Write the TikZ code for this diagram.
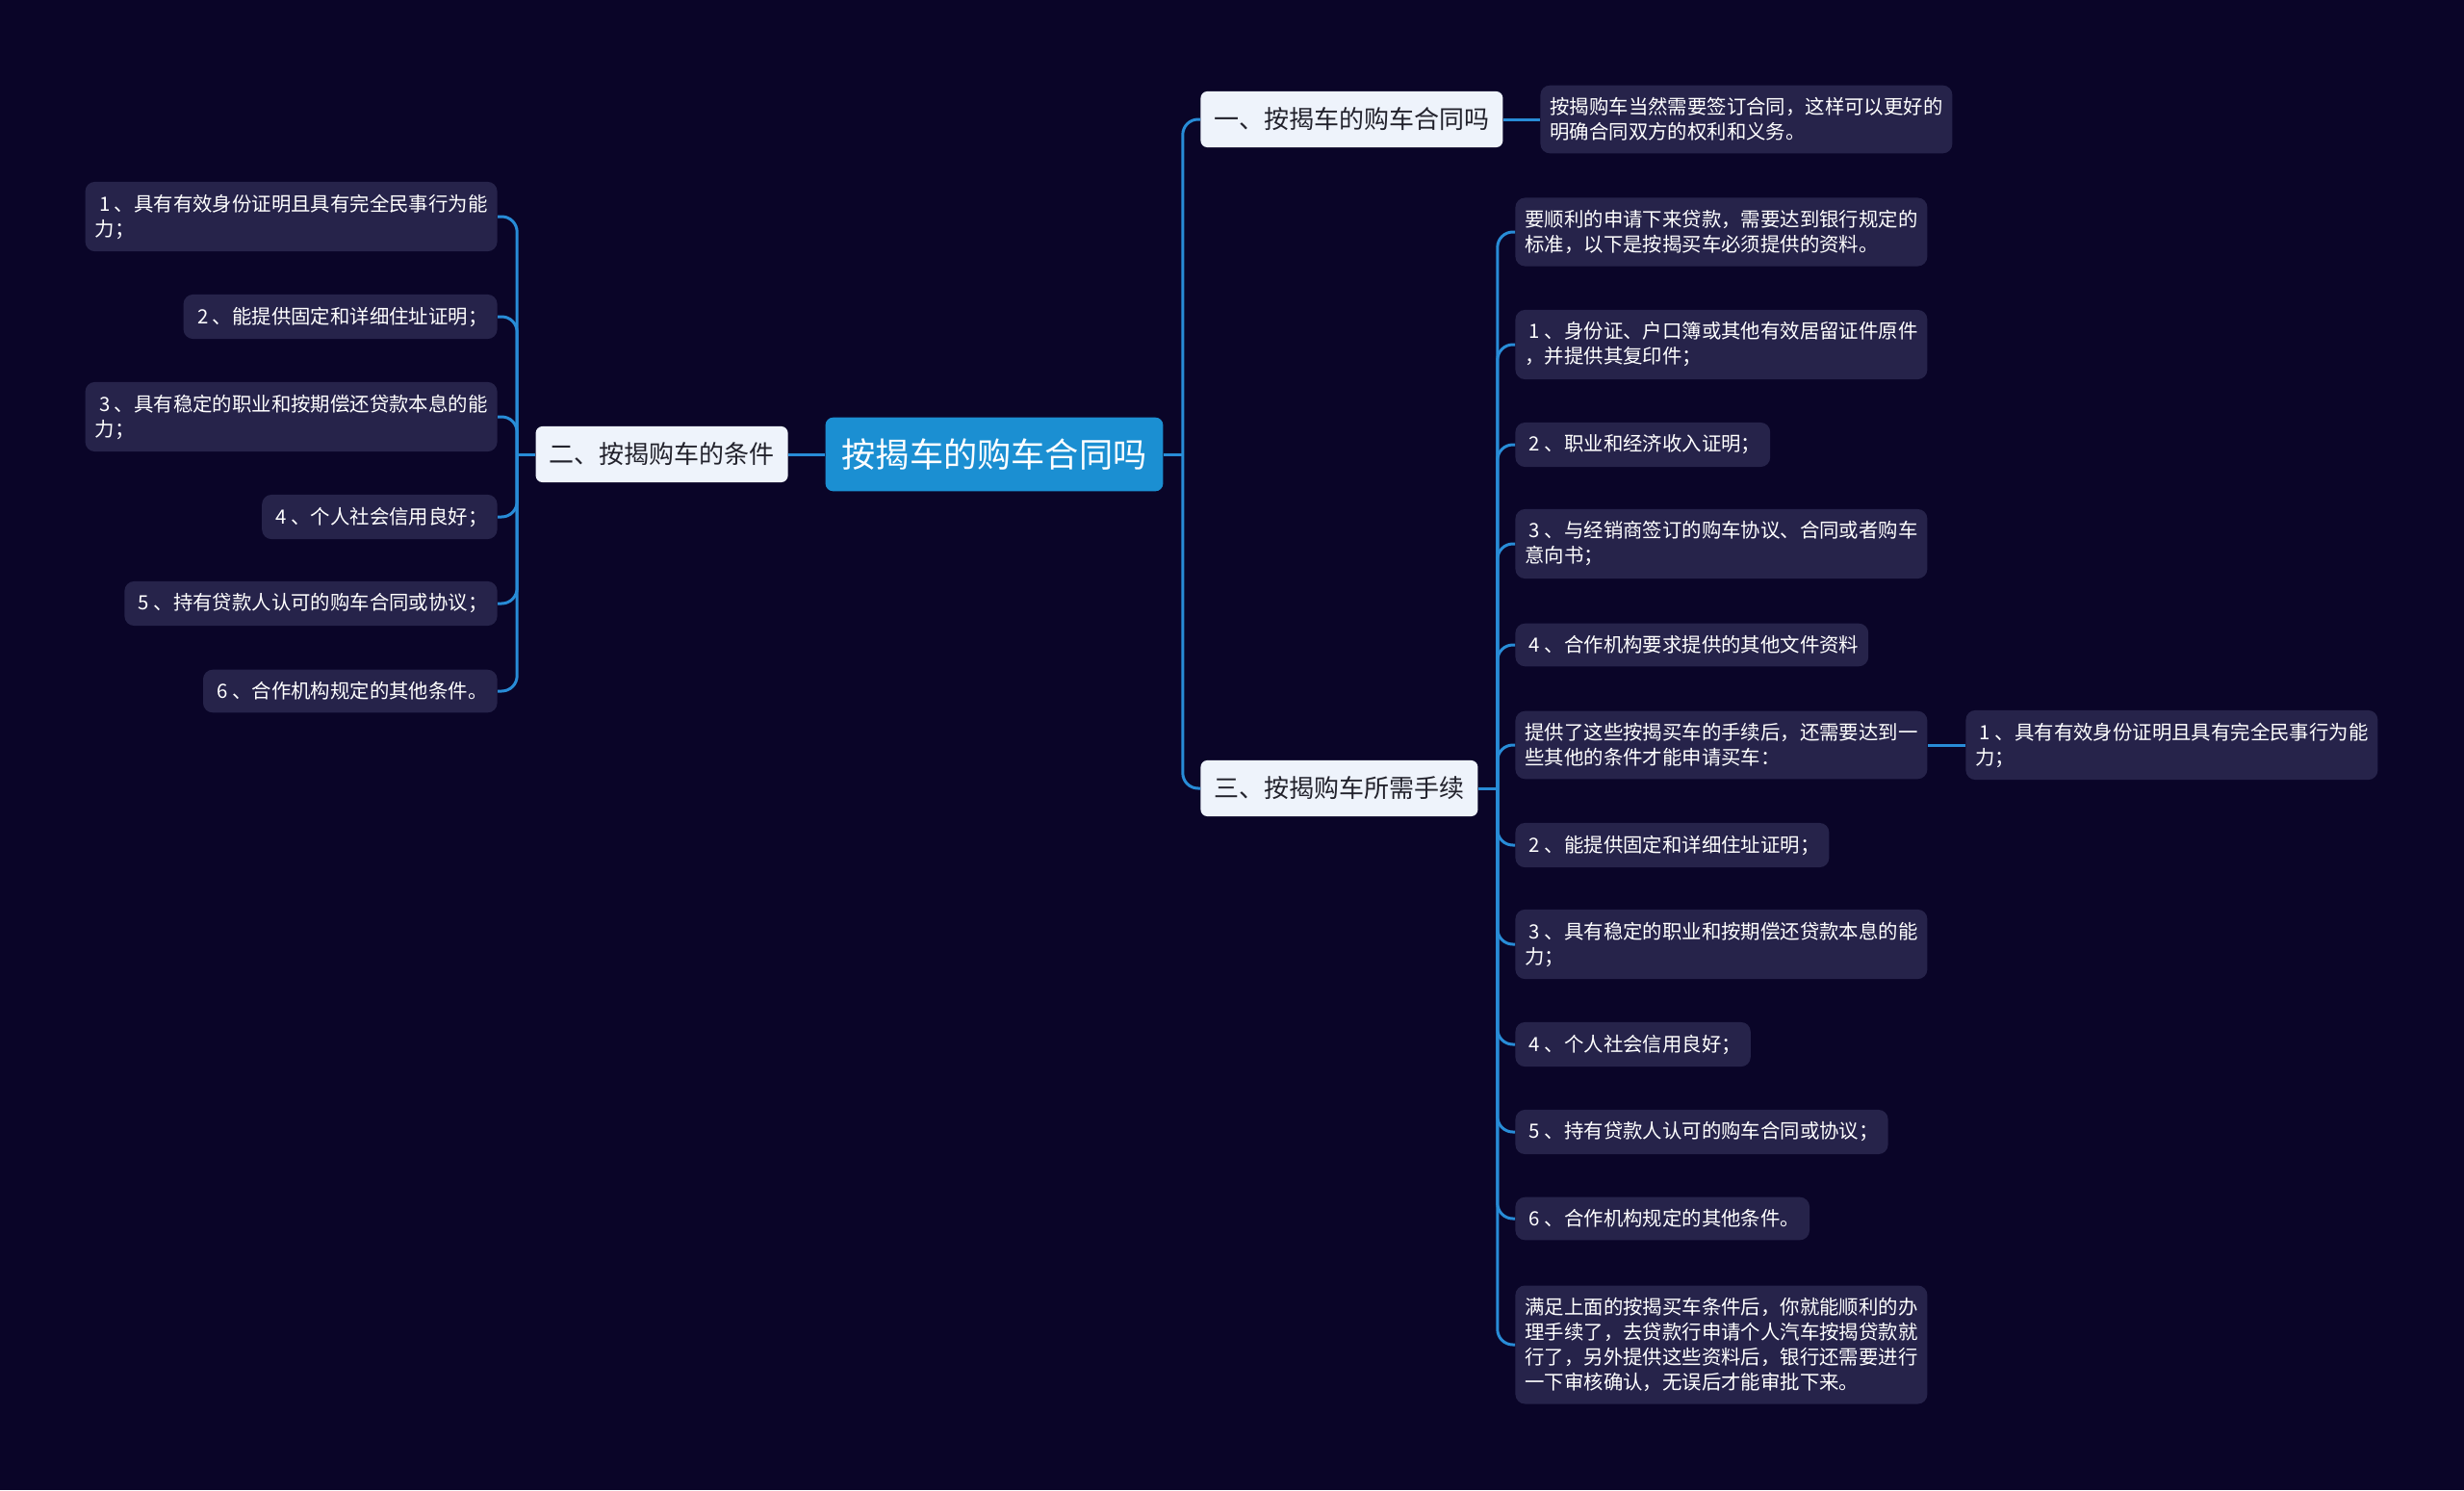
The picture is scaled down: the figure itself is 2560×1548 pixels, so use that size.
\documentclass[tikz,border=0pt]{standalone}
\usepackage{fontspec}
\setmainfont{Noto Sans CJK SC}
\usetikzlibrary{positioning}

\definecolor{bgnavy}{RGB}{10,5,40}
\definecolor{rootblue}{RGB}{27,143,210}
\definecolor{branchwhite}{RGB}{238,243,251}
\definecolor{branchink}{RGB}{34,34,44}
\definecolor{leafpurple}{RGB}{38,35,74}
\definecolor{linkblue}{RGB}{40,140,215}

\newcommand\itemno[1]{\makebox[1em]{#1}}

\begin{document}
\begin{tikzpicture}[
    x=0.5pt, y=-0.5pt,
    root/.style={rectangle, rounded corners=4pt, fill=rootblue, text=white, font=\fontsize{17.6pt}{21pt}\selectfont, inner xsep=8.5pt, inner ysep=11pt},
    branch/.style={rectangle, rounded corners=3.5pt, fill=branchwhite, text=branchink, font=\fontsize{13pt}{16pt}\selectfont, inner xsep=7pt, inner ysep=8.5pt},
    leaf/.style={rectangle, rounded corners=5pt, fill=leafpurple, text=white, align=left, font=\fontsize{10.2pt}{13pt}\selectfont, inner xsep=5pt, inner ysep=6.4pt},
    link/.style={draw=linkblue, line width=1.5pt, rounded corners=8pt}
]
    \fill[bgnavy] (0,0) rectangle (2560,1548);

    \node[root] (root) at (1033,472) {按揭车的购车合同吗};
    \node[branch, anchor=west] (b1) at (1247,124) {一、按揭车的购车合同吗};
    \node[branch, anchor=east] (b2) at (819,472) {二、按揭购车的条件};
    \node[branch, anchor=west] (b3) at (1247,819) {三、按揭购车所需手续};

    \node[leaf, anchor=west] (b1a) at (1600,124) {按揭购车当然需要签订合同，这样可以更好的\\明确合同双方的权利和义务。};

    % left side
    \node[leaf, anchor=east] (l1) at (517,225) {\itemno{1}、具有有效身份证明且具有完全民事行为能\\力；};
    \node[leaf, anchor=east] (l2) at (517,329) {\itemno{2}、能提供固定和详细住址证明；};
    \node[leaf, anchor=east] (l3) at (517,433) {\itemno{3}、具有稳定的职业和按期偿还贷款本息的能\\力；};
    \node[leaf, anchor=east] (l4) at (517,537) {\itemno{4}、个人社会信用良好；};
    \node[leaf, anchor=east] (l5) at (517,627) {\itemno{5}、持有贷款人认可的购车合同或协议；};
    \node[leaf, anchor=east] (l6) at (517,718) {\itemno{6}、合作机构规定的其他条件。};

    % right side
    \node[leaf, anchor=west] (r0) at (1574,241) {要顺利的申请下来贷款，需要达到银行规定的\\标准，以下是按揭买车必须提供的资料。};
    \node[leaf, anchor=west] (r1) at (1574,358) {\itemno{1}、身份证、户口簿或其他有效居留证件原件\\，并提供其复印件；};
    \node[leaf, anchor=west] (r2) at (1574,462) {\itemno{2}、职业和经济收入证明；};
    \node[leaf, anchor=west] (r3) at (1574,565) {\itemno{3}、与经销商签订的购车协议、合同或者购车\\意向书；};
    \node[leaf, anchor=west] (r4) at (1574,670) {\itemno{4}、合作机构要求提供的其他文件资料};
    \node[leaf, anchor=west] (r5) at (1574,774) {提供了这些按揭买车的手续后，还需要达到一\\些其他的条件才能申请买车：};
    \node[leaf, anchor=west] (r5a) at (2042,774) {\itemno{1}、具有有效身份证明且具有完全民事行为能\\力；};
    \node[leaf, anchor=west] (r6) at (1574,878) {\itemno{2}、能提供固定和详细住址证明；};
    \node[leaf, anchor=west] (r7) at (1574,981) {\itemno{3}、具有稳定的职业和按期偿还贷款本息的能\\力；};
    \node[leaf, anchor=west] (r8) at (1574,1085) {\itemno{4}、个人社会信用良好；};
    \node[leaf, anchor=west] (r9) at (1574,1176) {\itemno{5}、持有贷款人认可的购车合同或协议；};
    \node[leaf, anchor=west] (r10) at (1574,1266) {\itemno{6}、合作机构规定的其他条件。};
    \node[leaf, anchor=west] (r11) at (1574,1397) {满足上面的按揭买车条件后，你就能顺利的办\\理手续了，去贷款行申请个人汽车按揭贷款就\\行了，另外提供这些资料后，银行还需要进行\\一下审核确认，无误后才能审批下来。};

    \coordinate (rbus) at ([xshift=10pt]root.east);
    \coordinate (lbus) at ([xshift=-9.5pt]b2.west);
    \coordinate (bbus) at ([xshift=10pt]b3.east);

    \draw[link] (root.east) -- (rbus);
    \draw[link] (rbus) |- (b1.west);
    \draw[link] (rbus) |- (b3.west);
    \draw[link] (root.west) -- (b2.east);
    \draw[link] (b1.east) -- (b1a.west);

    \draw[link] (b2.west) -- (lbus);
    \foreach \n in {l1,l2,l3,l4,l5,l6}
        \draw[link] (lbus) |- (\n.east);

    \draw[link] (b3.east) -- (bbus);
    \foreach \i in {0,...,11}
        \draw[link] (bbus) |- (r\i.west);
    \draw[link] (r5.east) -- (r5a.west);
\end{tikzpicture}
\end{document}
